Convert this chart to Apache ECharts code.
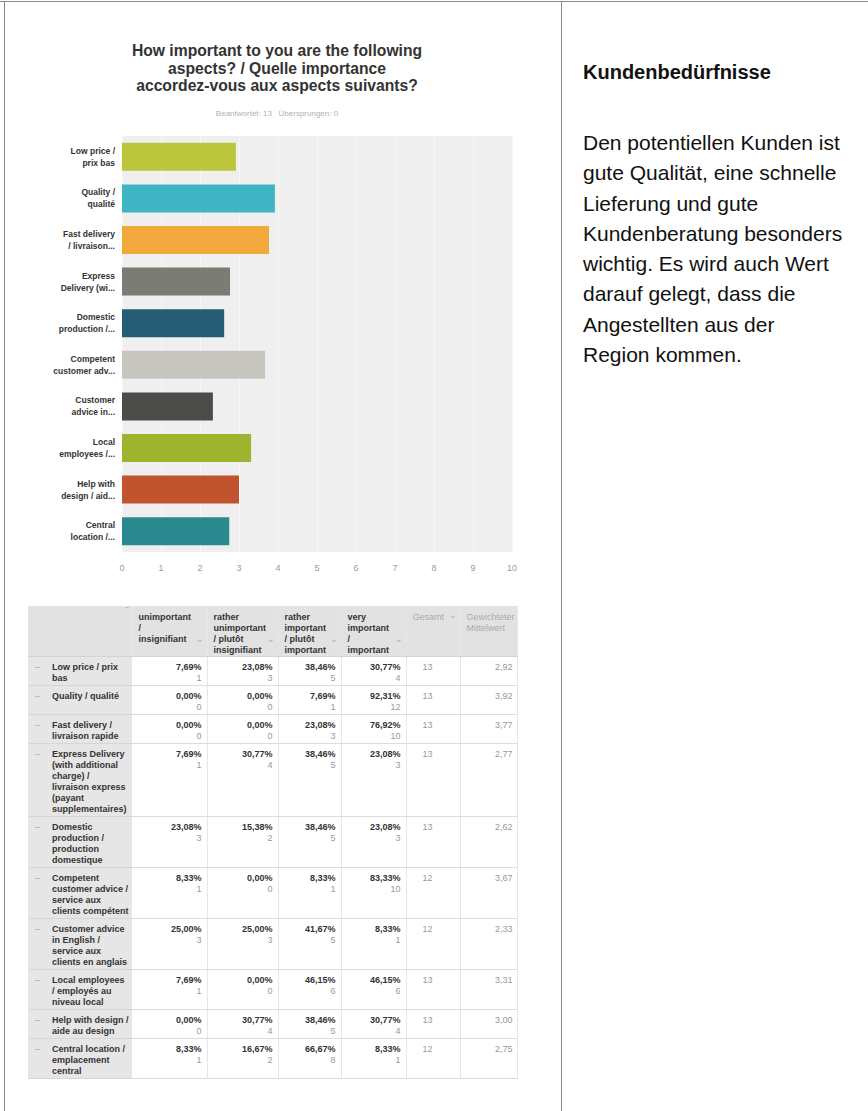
<!DOCTYPE html>
<html lang="de">
<head>
<meta charset="UTF-8"/>
<title>Kundenbedürfnisse</title>
<script src="https://cdn.jsdelivr.net/npm/echarts@6/dist/echarts.min.js"></script>
<style>
    body{margin:0;background:#fff;font-family:"Liberation Sans",Arial,sans-serif;}
    .line{position:absolute;background:#8c8c8c;}
    #chart{position:absolute;left:0;top:0;width:554px;height:600px;}
    #side{position:absolute;left:583px;top:62px;color:#111;}
    #side h3{margin:0;font-size:20px;line-height:20px;font-weight:bold;}
    #side p{margin:46px 0 0 0;font-size:21px;line-height:30.3px;}
    #tbl{position:absolute;left:28px;top:606px;width:489px;border-collapse:collapse;table-layout:fixed;
         font-size:9px;line-height:11px;}
    #tbl td{vertical-align:top;padding:5px 5px 1px 5px;white-space:pre;border-bottom:1px solid #dcdcdc;
            border-right:1px solid #e6e6e6;position:relative;}
    #tbl tr.head td{background:#e2e2e2;font-weight:bold;color:#333;padding:6px 5px 0 6px;border-bottom:1px solid #d4d4d4;}
    #tbl tr.head td.soft{color:#aaa;font-weight:normal;}
    #tbl td.lab{background:#e6e6e6;font-weight:bold;color:#333;padding-left:24px;border-right:none;border-bottom:1px solid #d6d6d6;}
    #tbl td.lab .dash{position:absolute;left:7px;top:5px;color:#aaa;font-weight:normal;}
    #tbl td.num{text-align:right;}
    #tbl td.num b{color:#333;}
    #tbl td.num span{color:#999;}
    #tbl td.tot{color:#999;padding-left:16px;}
    #tbl td.avg{color:#999;text-align:right;padding-right:4px;}
    .sort{position:absolute;right:3px;top:28px;color:#aaa;font-weight:normal;}
</style>
</head>
<body>
<div class="line" style="left:0;top:1px;width:868px;height:1px;"></div>
<div class="line" style="left:4px;top:1px;width:1px;height:1110px;"></div>
<div class="line" style="left:561px;top:1px;width:1px;height:1110px;"></div>

<div id="chart"></div>
<table id="tbl"></table>

<div id="side">
    <h3>Kundenbedürfnisse</h3>
    <p>Den potentiellen Kunden ist<br>gute Qualität, eine schnelle<br>Lieferung und gute<br>Kundenberatung besonders<br>wichtig. Es wird auch Wert<br>darauf gelegt, dass die<br>Angestellten aus der<br>Region kommen.</p>
</div>

<script type="text/javascript">
    // Daten
    var chartLabels = [
        'Low price /\nprix bas',
        'Quality /\nqualité',
        'Fast delivery\n/ livraison...',
        'Express\nDelivery (wi...',
        'Domestic\nproduction /...',
        'Competent\ncustomer adv...',
        'Customer\nadvice in...',
        'Local\nemployees /...',
        'Help with\ndesign / aid...',
        'Central\nlocation /...'
    ];
    var rowLabels = [
        'Low price / prix\nbas',
        'Quality / qualité',
        'Fast delivery /\nlivraison rapide',
        'Express Delivery\n(with additional\ncharge) /\nlivraison express\n(payant\nsupplementaires)',
        'Domestic\nproduction /\nproduction\ndomestique',
        'Competent\ncustomer advice /\nservice aux\nclients compétent',
        'Customer advice\nin English /\nservice aux\nclients en anglais',
        'Local employees\n/ employés au\nniveau local',
        'Help with design /\naide au design',
        'Central location /\nemplacement\ncentral'
    ];
    var answerHeads = [
        'unimportant\n/\ninsignifiant',
        'rather\nunimportant\n/ plutôt\ninsignifiant',
        'rather\nimportant\n/ plutôt\nimportant',
        'very\nimportant\n/\nimportant'
    ];
    var pctUnimportant   = ['7,69%','0,00%','0,00%','7,69%','23,08%','8,33%','25,00%','7,69%','0,00%','8,33%'];
    var pctRatherUnimp   = ['23,08%','0,00%','0,00%','30,77%','15,38%','0,00%','25,00%','0,00%','30,77%','16,67%'];
    var pctRatherImp     = ['38,46%','7,69%','23,08%','38,46%','38,46%','8,33%','41,67%','46,15%','38,46%','66,67%'];
    var pctVeryImp       = ['30,77%','92,31%','76,92%','23,08%','23,08%','83,33%','8,33%','46,15%','30,77%','8,33%'];
    var cntUnimportant   = [1,0,0,1,3,1,3,1,0,1];
    var cntRatherUnimp   = [3,0,0,4,2,0,3,0,4,2];
    var cntRatherImp     = [5,1,3,5,5,1,5,6,5,8];
    var cntVeryImp       = [4,12,10,3,3,10,1,6,4,1];
    var totals           = [13,13,13,13,13,12,12,13,13,12];
    var means            = [2.92,3.92,3.77,2.77,2.62,3.67,2.33,3.31,3.00,2.75];
    var xTicks           = [0,10,1]; // min, max, interval

    var barColors = ['#bcc63c','#3fb4c2','#f2a93c','#7b7c73','#265d74','#c8c7bf','#4b4c48','#9db42f','#c1532f','#29898f'];
    var font = '"Liberation Sans", Arial, sans-serif';

    var myChart = echarts.init(document.getElementById('chart'), null, {renderer: 'svg'});
    myChart.setOption({
        animation: false,
        title: [{
            text: 'How important to you are the following\naspects? / Quelle importance\naccordez-vous aux aspects suivants?',
            left: 'center',
            top: 37,
            textStyle: {fontSize: 15.7, fontWeight: 'bold', color: '#333', lineHeight: 17.5, fontFamily: font}
        }, {
            text: 'Beantwortet: 13   Übersprungen: 0',
            left: 'center',
            top: 104,
            textStyle: {fontSize: 8, fontWeight: 'normal', color: '#b0b0b0', fontFamily: font}
        }],
        grid: {left: 122, right: 42, top: 136, bottom: 48, show: true, backgroundColor: '#efefef', borderWidth: 0},
        xAxis: {
            type: 'value', min: xTicks[0], max: xTicks[1], interval: xTicks[2],
            axisLine: {show: false}, axisTick: {show: false},
            axisLabel: {color: '#9a9a9a', fontSize: 9, margin: 11, fontFamily: font},
            splitLine: {lineStyle: {color: '#f7f7f7', width: 1}}
        },
        yAxis: {
            type: 'category', data: chartLabels, inverse: true,
            axisLine: {show: false}, axisTick: {show: false},
            axisLabel: {fontSize: 8.5, fontWeight: 'bold', color: '#333', lineHeight: 12, margin: 7, fontFamily: font}
        },
        series: [{
            type: 'bar',
            barWidth: 28,
            silent: true,
            data: means.map(function (v, i) {
                return {value: v, itemStyle: {color: barColors[i]}};
            })
        }]
    });

    // Tabelle
    var pcts = [pctUnimportant, pctRatherUnimp, pctRatherImp, pctVeryImp];
    var cnts = [cntUnimportant, cntRatherUnimp, cntRatherImp, cntVeryImp];
    var html = '<colgroup><col style="width:104px"><col style="width:75px"><col style="width:71px">' +
        '<col style="width:63px"><col style="width:65px"><col style="width:54px"><col style="width:57px"></colgroup>';
    html += '<tr class="head"><td><span class="sort" style="top:1px">‾</span></td>';
    for (var h = 0; h < answerHeads.length; h++) {
        html += '<td>' + answerHeads[h] + '<span class="sort">⌄</span></td>';
    }
    html += '<td class="soft">Gesamt<span class="sort" style="top:4px">⌄</span></td><td class="soft">Gewichteter\nMittelwert</td></tr>';
    for (var r = 0; r < rowLabels.length; r++) {
        html += '<tr><td class="lab"><span class="dash">–</span>' + rowLabels[r] + '</td>';
        for (var c = 0; c < 4; c++) {
            html += '<td class="num"><b>' + pcts[c][r] + '</b>\n<span>' + cnts[c][r] + '</span></td>';
        }
        html += '<td class="tot">' + totals[r] + '</td>';
        html += '<td class="avg">' + means[r].toFixed(2).replace('.', ',') + '</td></tr>';
    }
    document.getElementById('tbl').innerHTML = html;
</script>
</body>
</html>
